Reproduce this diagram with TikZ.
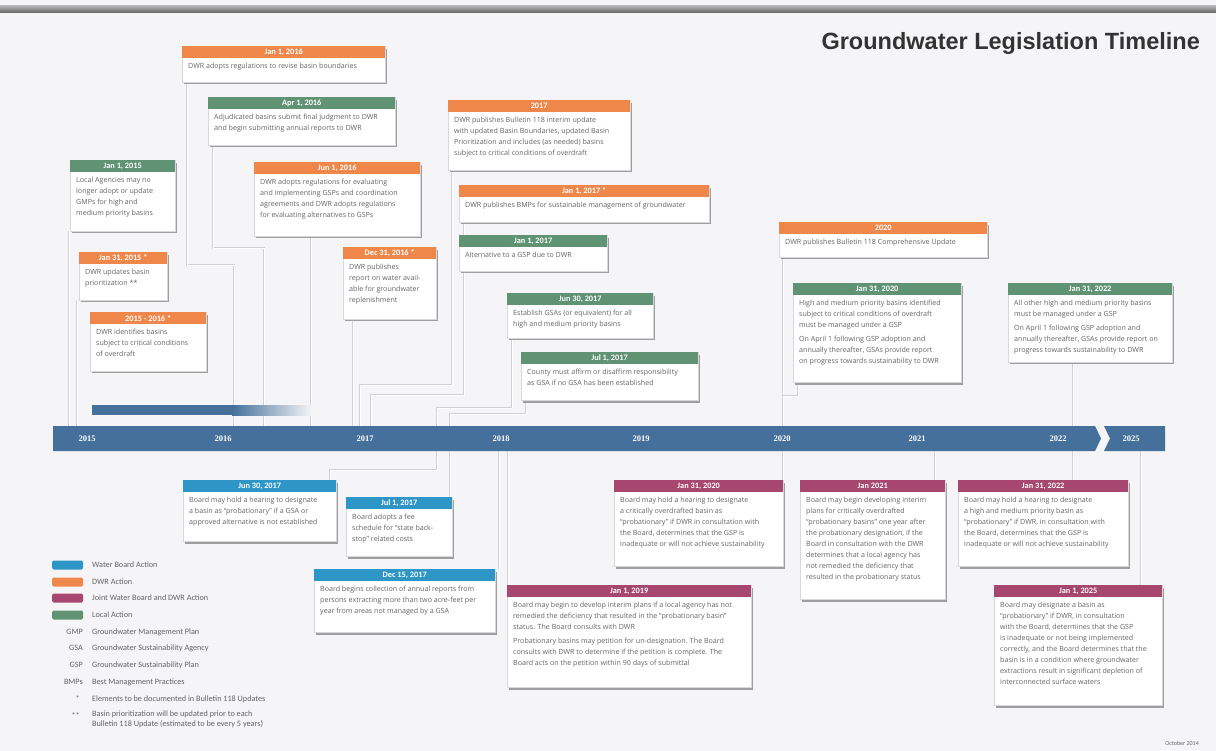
\documentclass[tikz,border=0pt]{standalone}
\usepackage{fontspec}
\setmainfont{Carlito}
\newfontfamily\titlefont{Liberation Sans}
\newfontfamily\yearfont{Liberation Serif}
\newfontfamily\bodyfont{Open Sans}
\usetikzlibrary{calc}
\definecolor{bgc}{RGB}{245,245,247}
\definecolor{cOr}{RGB}{240,135,74}
\definecolor{cGr}{RGB}{95,147,115}
\definecolor{cBl}{RGB}{46,149,199}
\definecolor{cPu}{RGB}{167,70,110}
\definecolor{barc}{RGB}{68,112,155}
\definecolor{txtc}{RGB}{100,100,100}
\pgfdeclarelayer{bg0}
\pgfdeclarelayer{background}
\pgfsetlayers{bg0,background,main}
\def\evfs{7.1}
\tikzset{
  evbody/.style={draw=black!15, fill=white, inner sep=0pt},
  evhead/.style={inner sep=0pt, minimum height=12pt, text=white, font=\bfseries\fontsize{8.3}{9}\selectfont},
  evtext/.style={inner sep=0pt, align=left, text=txtc, font=\bodyfont\fontsize{\evfs}{11}\selectfont},
  conn/.style={draw=black!18, line width=0.45pt, double=white, double distance=1pt},
  yearlbl/.style={text=white, font=\yearfont\bfseries\fontsize{8.5}{10}\selectfont, inner sep=0pt},
  legtxt/.style={anchor=west, inner sep=0pt, text=txtc, font=\fontsize{8.2}{9.5}\selectfont, align=left},
  legabbr/.style={anchor=east, inner sep=0pt, text=txtc, font=\fontsize{8.2}{9.5}\selectfont},
  swatch/.style={rounded corners=1.5pt, minimum width=31pt, minimum height=9pt, inner sep=0pt, anchor=west}
}
% #1 name, #2 x1, #3 y1, #4 x2, #5 y2, #6 colour, #7 title, #8 body
\newcommand\evt[8]{%
  \pgfmathsetmacro\evbw{#4-#2}%
  \pgfmathsetmacro\evbh{#5-#3}%
  \fill[black!38] (#2+2,#3+3) rectangle (#4+2,#5+2.5);
  \node[evbody, anchor=north west, minimum width=\evbw pt, minimum height=\evbh pt] (#1) at (#2,#3) {};
  \node[evhead, fill=#6, anchor=north west, minimum width=\evbw pt] (#1-h) at (#2,#3) {#7};
  \node[evtext, anchor=north west] (#1-t) at (#2+6,#3+17) {#8};
}
\begin{document}
\begin{tikzpicture}[x=1pt,y=-1pt]
\useasboundingbox (0,0) rectangle (1216,751);
\begin{pgfonlayer}{bg0}
\fill[bgc] (0,0) rectangle (1216,751);
\shade[top color=black!30, bottom color=black!62] (0,6) rectangle (1216,13);
\end{pgfonlayer}

\node[anchor=east, inner sep=0pt, text=black!80, font=\titlefont\bfseries\fontsize{23.5}{25}\selectfont] (title) at (1200,43) {Groundwater Legislation Timeline};

% timeline bar
\fill[barc] (53,426) -- (1095,426) -- (1101,438.5) -- (1095,451) -- (53,451) -- cycle;
\fill[barc] (1104,426) -- (1165,426) -- (1165,451) -- (1104,451) -- (1110,438.5) -- cycle;
\fill[barc] (92,405) rectangle (232,415);
\shade[left color=barc, right color=bgc] (232,405) rectangle (312,415);

\node[yearlbl] (y2015) at (87,438.5) {2015};
\node[yearlbl] (y2016) at (223,438.5) {2016};
\node[yearlbl] (y2017) at (365,438.5) {2017};
\node[yearlbl] (y2018) at (501,438.5) {2018};
\node[yearlbl] (y2019) at (641,438.5) {2019};
\node[yearlbl] (y2020) at (782,438.5) {2020};
\node[yearlbl] (y2021) at (917,438.5) {2021};
\node[yearlbl] (y2022) at (1058,438.5) {2022};
\node[yearlbl] (y2025) at (1131,438.5) {2025};

% tick coordinates on the bar
\coordinate (t15a) at (69,426);
\coordinate (t15b) at (77,426);
\coordinate (t16a) at (234,426);
\coordinate (t16b) at (264,426);
\coordinate (t16c) at (311,426);
\coordinate (t16d) at (353,426);
\coordinate (t17a) at (360,426);
\coordinate (t17b) at (371,426);
\coordinate (t17c) at (437,426);
\coordinate (t17d) at (450,426);
\coordinate (t20) at (783,426);
\coordinate (t22) at (1073,426);
\coordinate (b17c) at (437,451);
\coordinate (b17d) at (450,451);
\coordinate (b17e) at (499,451);
\coordinate (b19) at (508,451);
\coordinate (b20) at (783,451);
\coordinate (b21) at (935,451);
\coordinate (b22) at (1073,451);
\coordinate (b25) at (1141,451);

% ---------- upper events ----------
\evt{jan16}{182}{46}{385}{82}{cOr}{Jan 1, 2016}{DWR adopts regulations to revise basin boundaries}
\evt{apr16}{208}{97}{395}{145}{cGr}{Apr 1, 2016}{Adjudicated basins submit final judgment to DWR\\and begin submitting annual reports to DWR}
\evt{jan15}{70}{160}{175}{231}{cGr}{Jan 1, 2015}{Local Agencies may no\\longer adopt or update\\GMPs for high and\\medium priority basins}
\evt{jun16}{254}{162}{420}{236}{cOr}{Jun 1, 2016}{DWR adopts regulations for evaluating\\and implementing GSPs and coordination\\agreements and DWR adopts regulations\\for evaluating alternatives to GSPs}
\evt{jan31a}{79}{252}{167}{300}{cOr}{Jan 31, 2015 *}{DWR updates basin\\prioritization **}
\evt{r1516}{90}{312}{206}{371}{cOr}{2015 - 2016 *}{DWR identifies basins\\subject to critical conditions\\of overdraft}
\evt{dec16}{343}{247}{436}{319}{cOr}{Dec 31, 2016 *}{DWR publishes\\report on water avail-\\able for groundwater\\replenishment}
\evt{y17}{448}{100}{630}{170}{cOr}{2017}{DWR publishes Bulletin 118 interim update\\with updated Basin Boundaries, updated Basin\\Prioritization and includes (as needed) basins\\subject to critical conditions of overdraft}
\evt{jan17s}{459}{185}{709}{222}{cOr}{Jan 1, 2017 *}{DWR publishes BMPs for sustainable management of groundwater}
\evt{jan17}{459}{235}{607}{271}{cGr}{Jan 1, 2017}{Alternative to a GSP due to DWR}
\evt{jun17g}{507}{293}{653}{338}{cGr}{Jun 30, 2017}{Establish GSAs (or equivalent) for all\\high and medium priority basins}
\evt{jul17g}{521}{352}{698}{400}{cGr}{Jul 1, 2017}{County must affirm or disaffirm responsibility\\as GSA if no GSA has been established}
\evt{y20}{779}{222}{987}{257}{cOr}{2020}{DWR publishes Bulletin 118 Comprehensive Update}
\evt{jan20g}{793}{283}{961}{382}{cGr}{Jan 31, 2020}{High and medium priority basins identified\\subject to critical conditions of overdraft\\must be managed under a GSP\\[3pt]On April 1 following GSP adoption and\\annually thereafter, GSAs provide report\\on progress towards sustainability to DWR}
\evt{jan22g}{1008}{283}{1172}{362}{cGr}{Jan 31, 2022}{All other high and medium priority basins\\must be managed under a GSP\\[3pt]On April 1 following GSP adoption and\\annually thereafter, GSAs provide report on\\progress towards sustainability to DWR}

% ---------- lower events ----------
\evt{jun17b}{183}{480}{336}{541}{cBl}{Jun 30, 2017}{Board may hold a hearing to designate\\a basin as “probationary” if a GSA or\\approved alternative is not established}
\evt{jul17b}{346}{497}{452}{556}{cBl}{Jul 1, 2017}{Board adopts a fee\\schedule for “state back-\\stop” related costs}
\evt{dec17}{314}{569}{495}{632}{cBl}{Dec 15, 2017}{Board begins collection of annual reports from\\persons extracting more than two acre-feet per\\year from areas not managed by a GSA}
\evt{jan20p}{614}{480}{783}{566}{cPu}{Jan 31, 2020}{Board may hold a hearing to designate\\a critically overdrafted basin as\\“probationary” if DWR in consultation with\\the Board, determines that the GSP is\\inadequate or will not achieve sustainability}
\evt{jan21}{800}{480}{945}{599}{cPu}{Jan 2021}{Board may begin developing interim\\plans for critically overdrafted\\“probationary basins” one year after\\the probationary designation, if the\\Board in consultation with the DWR\\determines that a local agency has\\not remedied the deficiency that\\resulted in the probationary status}
\evt{jan22p}{958}{480}{1128}{566}{cPu}{Jan 31, 2022}{Board may hold a hearing to designate\\a high and medium priority basin as\\“probationary” if DWR, in consultation with\\the Board, determines that the GSP is\\inadequate or will not achieve sustainability}
\evt{jan19}{507}{585}{751}{687}{cPu}{Jan 1, 2019}{Board may begin to develop interim plans if a local agency has not\\remedied the deficiency that resulted in the “probationary basin”\\status. The Board consults with DWR\\[3pt]Probationary basins may petition for un-designation. The Board\\consults with DWR to determine if the petition is complete. The\\Board acts on the petition within 90 days of submittal}
\evt{jan25}{994}{585}{1162}{705}{cPu}{Jan 1, 2025}{Board may designate a basin as\\“probationary” if DWR, in consultation\\with the Board, determines that the GSP\\is inadequate or not being implemented\\correctly, and the Board determines that the\\basin is in a condition where groundwater\\extractions result in significant depletion of\\interconnected surface waters}

% ---------- connectors ----------
\begin{pgfonlayer}{background}
\draw[conn] (jan15.south west -| t15a) -- (t15a);
\draw[conn] (jan31a.south west -| t15b) -- (t15b);
\draw[conn] ([xshift=5pt]jan16.south west) -- ++(0,183) -| (t16a);
\draw[conn] ([xshift=5pt]apr16.south west) -- ++(0,103) -| (t16b);
\draw[conn] (jun16.south -| t16c) -- (t16c);
\draw[conn] (dec16.south -| t16d) -- (t16d);
\draw[conn] ([xshift=4pt]y17.south west) -- ++(0,215) -| (t17a);
\draw[conn] ([xshift=5pt]jan17s.south west) -- ([xshift=5pt]jan17.north west);
\draw[conn] ([xshift=5pt]jan17.south west) -- ++(0,124) -| (t17b);
\draw[conn] ([xshift=5pt]jun17g.south west) -- ++(0,70) -| (t17c);
\draw[conn] ([xshift=5pt]jul17g.south west) -- ++(0,14) -| (t17d);
\draw[conn] (y20.south west -| t20) -- (t20);
\draw[conn] ([xshift=5pt]jan20g.south west) -- ++(0,14) -| (t20);
\draw[conn] (jan22g.south -| t22) -- (t22);
\draw[conn] (b17c) -- ++(0,19) -| ([xshift=-6pt]jun17b.north east);
\draw[conn] (b17d) -- (b17d |- jul17b.north);
\draw[conn] (b17e) -- (b17e |- dec17.north);
\draw[conn] (b19) -- (b19 |- jan19.north);
\draw[conn] (b20) -- (b20 |- jan20p.north);
\draw[conn] (b21) -- (b21 |- jan21.north);
\draw[conn] (b22) -- (b22 |- jan22p.north);
\draw[conn] (b25) -- (b25 |- jan25.north);
\end{pgfonlayer}

% ---------- legend ----------
\node[swatch, fill=cBl] (lg1) at (52,565) {};
\node[swatch, fill=cOr] (lg2) at (52,582) {};
\node[swatch, fill=cPu] (lg3) at (52,598) {};
\node[swatch, fill=cGr] (lg4) at (52,615) {};
\node[legtxt] (lt1) at (92,565) {Water Board Action};
\node[legtxt] (lt2) at (92,582) {DWR Action};
\node[legtxt] (lt3) at (92,598) {Joint Water Board and DWR Action};
\node[legtxt] (lt4) at (92,615) {Local Action};
\node[legabbr] (la1) at (83,632) {GMP};
\node[legabbr] (la2) at (83,648) {GSA};
\node[legabbr] (la3) at (83,665) {GSP};
\node[legabbr] (la4) at (83,682) {BMPs};
\node[legabbr] (la5) at (80,699) {*};
\node[legabbr] (la6) at (80,716) {**};
\node[legtxt] (lt5) at (92,632) {Groundwater Management Plan};
\node[legtxt] (lt6) at (92,648) {Groundwater Sustainability Agency};
\node[legtxt] (lt7) at (92,665) {Groundwater Sustainability Plan};
\node[legtxt] (lt8) at (92,682) {Best Management Practices};
\node[legtxt] (lt9) at (92,699) {Elements to be documented in Bulletin 118 Updates};
\node[legtxt, anchor=north west] (lt10) at (92,711) {Basin prioritization will be updated prior to each\\Bulletin 118 Update (estimated to be every 5 years)};

\node[anchor=east, inner sep=0pt, text=txtc, font=\fontsize{6}{7}\selectfont] (date) at (1199,743) {October 2014};
\end{tikzpicture}
\end{document}
